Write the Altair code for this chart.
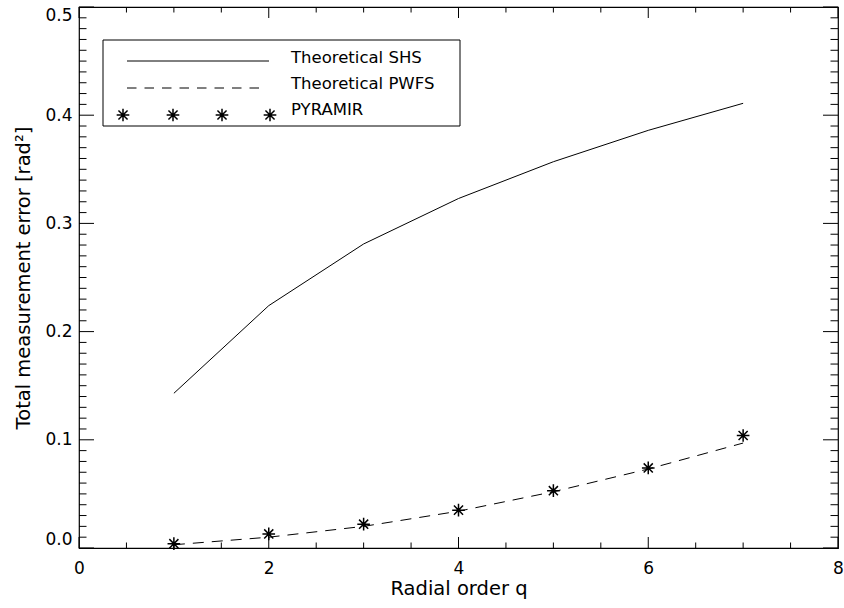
import altair as alt
import numpy as np
import pandas as pd

# ---- data ----
q = [1, 2, 3, 4, 5, 6, 7]
shs = [0.143, 0.224, 0.281, 0.323, 0.357, 0.386, 0.411]
pwfs = [0.003, 0.010, 0.020, 0.034, 0.052, 0.073, 0.097]
pyramir = [0.004, 0.013, 0.022, 0.035, 0.053, 0.074, 0.104]

x_labels = [0, 2, 4, 6, 8]
y_labels = [0.0, 0.1, 0.2, 0.3, 0.4, 0.5]
legend_labels = ["Theoretical SHS", "Theoretical PWFS", "PYRAMIR"]

W, H = 759, 541
FONT = "DejaVu Sans"
FW = "normal"
FS_LABEL = 17
FS_TITLE = 19.5
FS_LEGEND = 16.5
STAR = "M-1,0L1,0M0,-1L0,1M-0.72,-0.72L0.72,0.72M-0.72,0.72L0.72,-0.72"
STAR_SIZE = 160

df = pd.DataFrame({"q": q, "shs": shs, "pwfs": pwfs, "pyr": pyramir})

xs = alt.Scale(domain=[0, 8], nice=False, zero=False)
ys = alt.Scale(domain=[0, 0.5], nice=False, zero=False)

xaxis = alt.Axis(values=x_labels, format="d", ticks=False, domain=False, grid=False,
                 labelFlush=False,
                 labelFont=FONT, labelFontSize=FS_LABEL, labelFontWeight=FW, labelColor="#000",
                 labelPadding=12, title="Radial order q", titleFont=FONT, titleFontSize=FS_TITLE,
                 titleFontWeight=FW, titleColor="#000", titlePadding=3)
yaxis = alt.Axis(values=y_labels, format=".1f", ticks=False, domain=False, grid=False,
                 labelFlush=True,
                 labelFont=FONT, labelFontSize=FS_LABEL, labelFontWeight=FW, labelColor="#000",
                 labelPadding=7, title="Total measurement error [rad²]", titleFont=FONT,
                 titleFontSize=FS_TITLE, titleFontWeight=FW, titleColor="#000", titlePadding=11)

def X(field):
    return alt.X(field, scale=xs, axis=xaxis)

def Y(field):
    return alt.Y(field, scale=ys, axis=yaxis)

base = alt.Chart(df)

shs_line = base.mark_line(color="black", strokeWidth=1).encode(x=X("q:Q"), y=Y("shs:Q"))
pwfs_line = base.mark_line(color="black", strokeWidth=1, strokeDash=[11, 8]).encode(
    x=X("q:Q"), y=Y("pwfs:Q"))
pyr_pts = base.mark_point(shape=STAR, size=STAR_SIZE, stroke="black", strokeWidth=1.5,
                          filled=False, opacity=1).encode(x=X("q:Q"), y=Y("pyr:Q"))

# ---- inward ticks on all four sides ----
x_all = np.round(np.arange(0, 8.01, 0.5), 2)
x_major = pd.DataFrame({"v": [v for v in x_all if v % 2 == 0]})
x_minor = pd.DataFrame({"v": [v for v in x_all if v % 2 != 0]})
y_all = np.round(np.arange(0, 0.5001, 0.01), 3)
y_major = pd.DataFrame({"v": [v for v in y_all if round(v * 100) % 10 == 0]})
y_minor = pd.DataFrame({"v": [v for v in y_all if round(v * 100) % 10 != 0]})

XL, XS = 11, 5.5
YL, YS = 15, 7.5

def xticks(d, L):
    bot = alt.Chart(d).mark_rule(color="black", strokeWidth=1).encode(
        x=X("v:Q"), y=alt.value(H - L), y2=alt.value(H))
    top = alt.Chart(d).mark_rule(color="black", strokeWidth=1).encode(
        x=X("v:Q"), y=alt.value(0), y2=alt.value(L))
    return [bot, top]

def yticks(d, L):
    lft = alt.Chart(d).mark_rule(color="black", strokeWidth=1).encode(
        y=Y("v:Q"), x=alt.value(0), x2=alt.value(L))
    rgt = alt.Chart(d).mark_rule(color="black", strokeWidth=1).encode(
        y=Y("v:Q"), x=alt.value(W - L), x2=alt.value(W))
    return [lft, rgt]

ticks = xticks(x_major, XL) + xticks(x_minor, XS) + yticks(y_major, YL) + yticks(y_minor, YS)

# ---- legend (manual, IDL style) ----
one = pd.DataFrame({"k": [0]})
leg_box = alt.Chart(one).mark_rect(fillOpacity=0, stroke="black", strokeWidth=1).encode(
    x=alt.value(24), x2=alt.value(381), y=alt.value(33), y2=alt.value(119))
leg_solid = alt.Chart(one).mark_rule(color="black", strokeWidth=1).encode(
    x=alt.value(48), x2=alt.value(190), y=alt.value(54))
leg_dash = alt.Chart(one).mark_rule(color="black", strokeWidth=1, strokeDash=[9.5, 8]).encode(
    x=alt.value(48), x2=alt.value(181), y=alt.value(81))
leg_stars = [
    alt.Chart(one).mark_point(shape=STAR, size=STAR_SIZE, stroke="black", strokeWidth=1.5,
                              filled=False, opacity=1).encode(x=alt.value(px), y=alt.value(108))
    for px in [44, 94, 143, 191]
]
leg_texts = [
    alt.Chart(one).mark_text(align="left", baseline="alphabetic", font=FONT, fontSize=FS_LEGEND,
                             fontWeight=FW, color="black").encode(
        x=alt.value(212), y=alt.value(py), text=alt.value(lab))
    for lab, py in zip(legend_labels, [56, 82, 108])
]

chart = alt.layer(
    shs_line, pwfs_line, pyr_pts, *ticks, leg_box, leg_solid, leg_dash, *leg_stars, *leg_texts
).properties(
    width=W, height=H,
    autosize=alt.AutoSizeParams(type="none"),
    padding={"left": 79, "top": 7, "right": 6, "bottom": 60},
).configure_view(stroke="black", strokeWidth=1.2)

chart.save("out.html", embed_options={"renderer": "svg", "actions": False})
